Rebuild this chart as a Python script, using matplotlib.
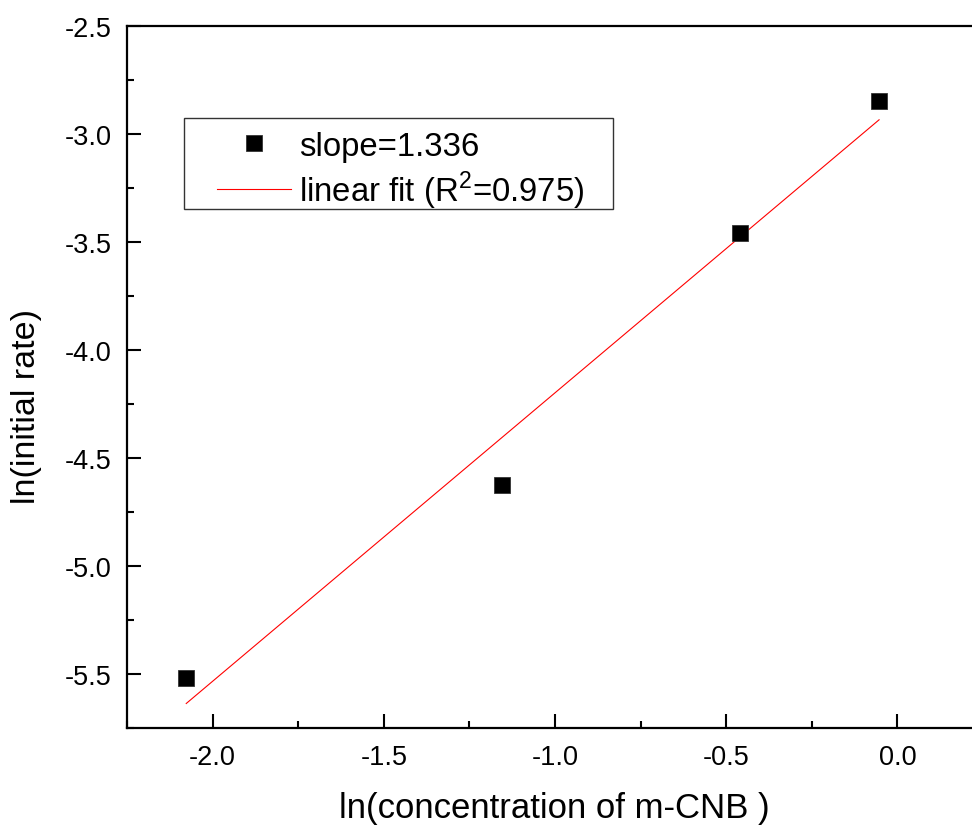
import numpy as np
import matplotlib
matplotlib.use("Agg")
import matplotlib.pyplot as plt
from matplotlib.ticker import MultipleLocator
from matplotlib.patches import Rectangle

plt.rcParams['font.family'] = ['Liberation Sans', 'DejaVu Sans']
plt.rcParams['axes.unicode_minus'] = False

ln_conc = [-2.077, -1.156, -0.460, -0.0535]
ln_rate = [-5.519, -4.625, -3.458, -2.847]
slope_label = "slope=1.336"
fit_label = "linear fit (R$^{\\mathregular{2}}$=0.975)"
xlabel = "ln(concentration of m-CNB )"
ylabel = "ln(initial rate)"

W, H = 972, 828
fig = plt.figure(figsize=(W / 100, H / 100), dpi=100)
ax_l, ax_r, ax_t, ax_b = 127, 983, 27.3, 729.3
ax = fig.add_axes([ax_l / W, (H - ax_b) / H, (ax_r - ax_l) / W, (ax_b - ax_t) / H])

x = np.array(ln_conc)
y = np.array(ln_rate)
k, b = np.polyfit(x, y, 1)
xf = np.array([x.min(), x.max()])
ax.plot(x, y, linestyle='none', marker='s', markersize=11.5, color='black',
        markeredgecolor='#333333', markeredgewidth=0.6, label=slope_label, zorder=3)
ax.plot(xf, k * xf + b, color='red', linewidth=0.8, label=fit_label, zorder=2)

ax.set_xlim(-2.25, 0.25)
ax.set_ylim(-5.75, -2.5)
ax.xaxis.set_major_locator(MultipleLocator(0.5))
ax.xaxis.set_minor_locator(MultipleLocator(0.25))
ax.yaxis.set_major_locator(MultipleLocator(0.5))
ax.yaxis.set_minor_locator(MultipleLocator(0.25))
ax.tick_params(which='major', direction='in', length=10, width=1.5, labelsize=19.5, pad=11)
ax.tick_params(which='minor', direction='in', length=5, width=1.5)
ax.tick_params(axis='both', which='both', top=False, right=False)
for s in ax.spines.values():
    s.set_linewidth(1.6)

ax.set_xlabel(xlabel, fontsize=25)
ax.set_ylabel(ylabel, fontsize=24.5)
ax.xaxis.set_label_coords(0.4988, -0.090)
ax.yaxis.set_label_coords(-0.099, 0.4605)

# legend frame
frame = Rectangle((184 / W, 1 - 210 / H), (613 - 184) / W, (210 - 119) / H,
                  transform=fig.transFigure, facecolor='white',
                  edgecolor='#333333', linewidth=1.0, zorder=4)
ax.add_artist(frame)
leg = ax.legend(loc='upper left', bbox_to_anchor=(217 / W, 1 - 132 / H),
                bbox_transform=fig.transFigure, fontsize=23.7, frameon=False,
                handlelength=2.25, handletextpad=0.24, labelspacing=0.2,
                borderpad=0.0, borderaxespad=0.0)
leg.set_zorder(5)

fig.savefig("out.png", dpi=100)
